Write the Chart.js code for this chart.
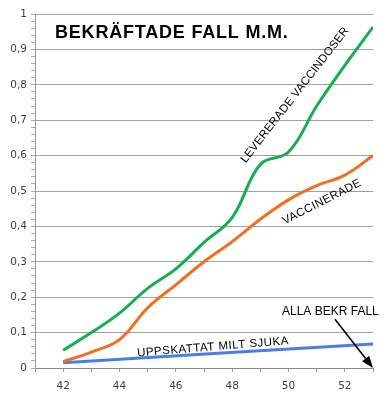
<!DOCTYPE html>
<html>
<head>
<meta charset="utf-8">
<script src="https://cdn.jsdelivr.net/npm/chart.js@4"></script>
<style>
    html, body { margin: 0; padding: 0; background: #fff; }
    #wrap { width: 392px; height: 400px; }
</style>
</head>
<body>
<div id="wrap"><canvas id="chart" width="392" height="400"></canvas></div>
<script>
// ─── data ─────────────────────────────────────────────────────────────
const weeks = [42, 43, 44, 45, 46, 47, 48, 49, 50, 51, 52, 53];
const levererade = [0.05, 0.10, 0.155, 0.225, 0.28, 0.355, 0.425, 0.575, 0.61, 0.74, 0.855, 0.963];
const vaccinerade = [0.018, 0.045, 0.08, 0.17, 0.235, 0.30, 0.357, 0.42, 0.475, 0.515, 0.545, 0.60];
const miltSjukaWeeks = [42, 53];
const miltSjuka = [0.015, 0.068];
const xTickLabels = [42, 44, 46, 48, 50, 52];

const FONT = '"Liberation Sans", Arial, sans-serif';
const TICK_FONT = '"DejaVu Sans", Verdana, sans-serif';

const pts = (xs, ys) => xs.map((x, i) => ({x, y: ys[i]}));
const isMajor = v => Math.abs(v * 10 - Math.round(v * 10)) < 1e-6;

// text + arrow drawn in data coordinates
const annotations = {
    id: 'annotations',
    afterDraw(chart) {
        const {ctx, scales: {x, y}} = chart;
        const px = v => x.getPixelForValue(v);
        const py = v => y.getPixelForValue(v);

        const text = (str, vx, vy, font, angle = 0, align = 'center', base = 'middle', spacing = '0px') => {
            ctx.save();
            ctx.translate(px(vx), py(vy));
            ctx.rotate(angle * Math.PI / 180);
            ctx.font = font;
            ctx.letterSpacing = spacing;
            ctx.fillStyle = '#000';
            ctx.textAlign = align;
            ctx.textBaseline = base;
            ctx.fillText(str, 0, 0);
            ctx.restore();
        };

        text('BEKRÄFTADE FALL M.M.', 41.71, 0.932, `bold 18px ${FONT}`, 0, 'left', 'alphabetic', '0.8px');
        text('LEVERERADE VACCINDOSER', 50.23, 0.771, `11.5px ${FONT}`, -52, 'center', 'middle', '0.2px');
        text('VACCINERADE', 51.19, 0.469, `11.5px ${FONT}`, -27, 'center', 'middle', '0.4px');
        text('UPPSKATTAT MILT SJUKA', 47.32, 0.059, `11.5px ${FONT}`, -4.6, 'center', 'middle', '0.5px');
        text('ALLA BEKR FALL', 49.77, 0.15, `12px ${FONT}`, 0, 'left', 'alphabetic');

        // arrow
        const x0 = px(51.65), y0 = py(0.138), x1 = px(53), y1 = py(0);
        const a = Math.atan2(y1 - y0, x1 - x0);
        const len = 12, w = 4.5;
        const bx = x1 - len * Math.cos(a), by = y1 - len * Math.sin(a);
        ctx.save();
        ctx.strokeStyle = '#000';
        ctx.fillStyle = '#000';
        ctx.lineWidth = 1.6;
        ctx.beginPath();
        ctx.moveTo(x0, y0);
        ctx.lineTo(bx, by);
        ctx.stroke();
        ctx.beginPath();
        ctx.moveTo(x1, y1);
        ctx.lineTo(bx + w * Math.sin(a), by - w * Math.cos(a));
        ctx.lineTo(bx - w * Math.sin(a), by + w * Math.cos(a));
        ctx.closePath();
        ctx.fill();
        ctx.restore();
    }
};

new Chart(document.getElementById('chart'), {
    type: 'line',
    data: {
        datasets: [
            {label: 'Levererade vaccindoser', data: pts(weeks, levererade), borderColor: '#17ad52'},
            {label: 'Vaccinerade', data: pts(weeks, vaccinerade), borderColor: '#f26f1f'},
            {label: 'Uppskattat milt sjuka', data: pts(miltSjukaWeeks, miltSjuka), borderColor: '#4a7ee6'},
        ].map(d => ({...d, borderWidth: 3, pointRadius: 0, tension: 0.4, fill: false})),
    },
    options: {
        responsive: false,
        animation: false,
        layout: {padding: {top: 14, right: 19, left: 0, bottom: 0}},
        plugins: {legend: {display: false}, tooltip: {enabled: false}},
        scales: {
            x: {
                type: 'linear',
                min: 41,
                max: 53,
                afterBuildTicks: s => { s.ticks = [41].concat(weeks).map(v => ({value: v})); },
                afterFit: s => { s.height = 32; },
                grid: {drawOnChartArea: false, tickLength: 4, tickColor: '#999'},
                border: {color: '#888'},
                ticks: {
                    autoSkip: false,
                    maxRotation: 0,
                    padding: 8,
                    color: '#404040',
                    font: {family: TICK_FONT, size: 10.5},
                    callback: v => xTickLabels.includes(v) ? String(v) : '',
                },
            },
            y: {
                min: 0,
                max: 1,
                afterFit: s => { s.width = 35; },
                ticks: {
                    stepSize: 0.02,
                    autoSkip: false,
                    padding: 4,
                    color: '#404040',
                    font: {family: TICK_FONT, size: 10.5},
                    callback: v => isMajor(v) ? String(Math.round(v * 10) / 10).replace('.', ',') : '',
                },
                grid: {
                    tickLength: 4,
                    color: c => isMajor(c.tick.value) ? '#a0a0a0' : 'rgba(0,0,0,0)',
                    tickColor: '#aaa',
                },
                border: {color: '#999'},
            },
        },
    },
    plugins: [annotations],
});
</script>
</body>
</html>
